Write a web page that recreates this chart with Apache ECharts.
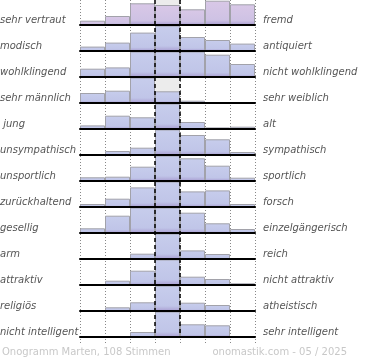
<!DOCTYPE html>
<html><head><meta charset="utf-8">
<script src="https://cdn.jsdelivr.net/npm/echarts@6/dist/echarts.min.js"></script>
<style>html,body{margin:0;padding:0;background:#fff}#c{width:370px;height:360px}</style>
</head><body><div id="c"></div>
<script>
const leftLabels = ["sehr vertraut","modisch","wohlklingend","sehr männlich"," jung","unsympathisch","unsportlich","zurückhaltend","gesellig","arm","attraktiv","religiös","nicht intelligent"];
const rightLabels = ["fremd","antiquiert","nicht wohlklingend","sehr weiblich","alt","sympathisch","sportlich","forsch","einzelgängerisch","reich","nicht attraktiv","atheistisch","sehr intelligent"];
const bins = ["1","2","3","4","5","6","7"];
// bar heights per row (scale 0..25, larger values are clipped)
const row01 = [4.3, 9, 21.7, 20, 15.7, 24.3, 20.7];
const row02 = [4.4, 8.4, 18.4, 30, 14, 11, 7.4];
const row03 = [8.3, 9.6, 30, 30, 30, 22.3, 13];
const row04 = [10, 12.3, 30, 11.7, 2.3, 0, 0];
const row05 = [3.6, 13.3, 11.7, 30, 7, 1.6, 2.3];
const row06 = [1, 4, 7.3, 30, 20, 15.7, 3];
const row07 = [3.7, 4.3, 14.3, 30, 22.7, 15.3, 3.3];
const row08 = [3, 8.3, 19.6, 30, 15.6, 16.6, 3];
const row09 = [4.7, 17.3, 30, 30, 20.3, 9.7, 4];
const row10 = [0, 0, 5.3, 30, 8.6, 5, 0];
const row11 = [0, 4.3, 14.3, 30, 8.3, 6, 1.7];
const row12 = [0, 3.7, 8.7, 30, 8.3, 6, 0];
const row13 = [0, 1, 5, 30, 12.7, 11.7, 0.7];
const rows = [row01,row02,row03,row04,row05,row06,row07,row08,row09,row10,row11,row12,row13];
const footerLeft = "Onogramm Marten, 108 Stimmen";
const footerRight = "onomastik.com - 05 / 2025";

const chart = echarts.init(document.getElementById('c'), null, {renderer:'canvas'});
const PL = 80, PW = 175, RH = 26, B0 = 25;
const grids = [], xAxes = [], yAxes = [], series = [], graphics = [];
const labelStyle = {fontFamily:'DejaVu Sans', fontSize:10, fontStyle:'italic', fill:'#555'};

// background grid: dotted vertical lines + grey middle column
grids.push({left:PL, top:0, width:PW, height:345});
xAxes.push({gridIndex:0, type:'value', min:0, max:7, interval:1, show:true,
  axisLine:{show:false}, axisTick:{show:false}, axisLabel:{show:false},
  splitLine:{show:true, lineStyle:{color:'#888', type:[1,2], width:1}}});
yAxes.push({gridIndex:0, type:'value', min:0, max:345, inverse:true, show:false, splitLine:{show:false}});
series.push({type:'line', xAxisIndex:0, yAxisIndex:0, data:[[3.5,0]], symbol:'none', silent:true, z:0,
  markArea:{silent:true, itemStyle:{color:'#ececec'}, data:[[{coord:[3,0]},{coord:[4,337]}]]}});

rows.forEach((vals, i) => {
  const gi = i + 1;
  const base = B0 + RH * i;
  grids.push({left:PL, top:base-25, width:PW, height:25});
  xAxes.push({gridIndex:gi, type:'category', data:bins, boundaryGap:true, z:6,
    axisLine:{show:true, onZero:false, lineStyle:{color:'#000', width:2}},
    axisTick:{show:false}, axisLabel:{show:false}, splitLine:{show:false}});
  yAxes.push({gridIndex:gi, type:'value', min:0, max:25, show:false, splitLine:{show:false}});
  const top = i === 0 ? '#d9c8e7' : '#c7cdec';
  const mid = i === 0 ? '#cec2e4' : '#c0c5e8';
  series.push({type:'bar', xAxisIndex:gi, yAxisIndex:gi, data:vals, barCategoryGap:'0%', clip:true, z:2,
    silent:true,
    itemStyle:{borderColor:'#a2a2aa', borderWidth:1,
      color:new echarts.graphic.LinearGradient(0,0,0,1,[
        {offset:0,color:top},{offset:0.8,color:mid},{offset:1,color:'#a99ed2'}])}});
  graphics.push({type:'text', left:0, top:base-10, style:Object.assign({text:leftLabels[i]}, labelStyle)});
  graphics.push({type:'text', left:263, top:base-10, style:Object.assign({text:rightLabels[i]}, labelStyle)});
});

// overlay grid for dashed middle lines
const oi = rows.length + 1;
grids.push({left:155, top:0, width:25, height:337});
xAxes.push({gridIndex:oi, type:'value', min:0, max:1, interval:1, z:10,
  axisLine:{show:false}, axisTick:{show:false}, axisLabel:{show:false},
  splitLine:{show:true, lineStyle:{color:'#000', type:[4,3], width:1.5}}});
yAxes.push({gridIndex:oi, type:'value', show:false, min:0, max:1, splitLine:{show:false}});

graphics.push({type:'text', left:2, top:347, style:{text:footerLeft, fontFamily:'DejaVu Sans', fontSize:10, fill:'#c8c8c8'}});
graphics.push({type:'text', right:23, top:347, style:{text:footerRight, fontFamily:'DejaVu Sans', fontSize:10, fill:'#c8c8c8'}});

chart.setOption({animation:false, grid:grids, xAxis:xAxes, yAxis:yAxes, series:series, graphic:graphics});
</script></body></html>
